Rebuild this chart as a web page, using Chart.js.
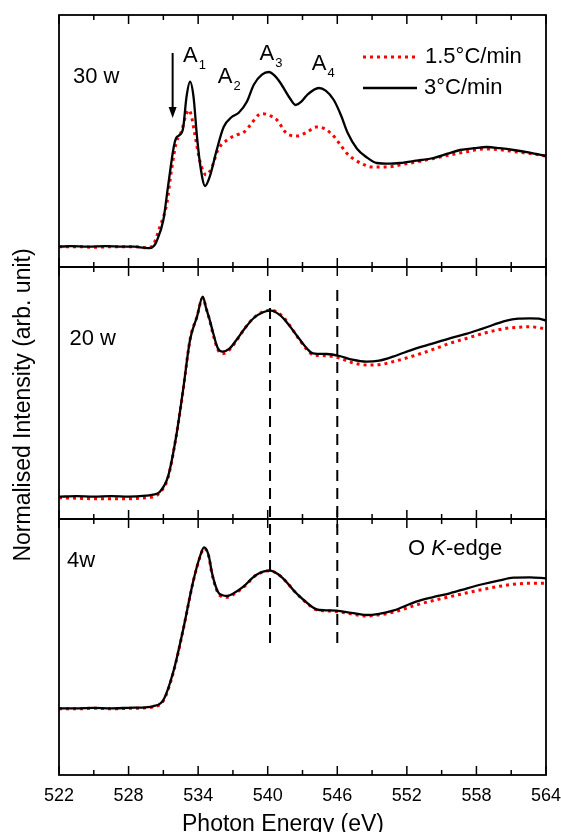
<!DOCTYPE html>
<html>
<head>
<meta charset="utf-8">
<script src="https://cdn.jsdelivr.net/npm/chart.js@4.4.0/dist/chart.umd.min.js"></script>
<style>
  html, body { margin: 0; padding: 0; background: #fff; }
  #wrap { width: 561px; height: 832px; overflow: hidden; }
</style>
</head>
<body>
<div id="wrap"><canvas id="xas" width="561" height="832"></canvas></div>
<script>
// x axis (photon energy, eV)
var energyMin = 522, energyMax = 564, energyStep = 6;

var seriesNames = ['1.5\u00B0C/min', '3\u00B0C/min'];
var panelNames = ['30 w', '20 w', '4w'];

// 30 w, 3 C/min (black)
var e30Fast = [522, 523, 524.5, 526, 527.5, 528.5, 529.3, 529.8, 530.2, 530.4, 531.0, 531.4, 531.9, 532.1, 532.4, 532.7, 533.0, 533.3, 533.6, 533.9, 534.2, 534.6, 535.0, 535.6, 536.2, 536.9, 537.5, 538.2, 538.8, 539.5, 540.1, 540.6, 541.1, 541.9, 542.4, 542.9, 543.4, 544.4, 545.0, 545.7, 546.3, 546.9, 547.7, 548.5, 549.4, 550.5, 551.4, 552.8, 554.3, 555.5, 556.6, 557.8, 558.9, 560, 561.2, 562.6, 564];
var i30Fast = [0.0, 0.005, 0.0, 0.005, 0.0, 0.0, -0.01, -0.015, 0.01, 0.05, 0.267, 0.6, 1.0, 1.087, 1.117, 1.183, 1.5, 1.65, 1.5, 1.1, 0.8, 0.607, 0.70, 0.967, 1.197, 1.297, 1.34, 1.45, 1.62, 1.72, 1.747, 1.71, 1.637, 1.487, 1.417, 1.45, 1.517, 1.587, 1.56, 1.467, 1.32, 1.137, 0.98, 0.897, 0.837, 0.83, 0.837, 0.86, 0.887, 0.93, 0.967, 0.985, 0.997, 0.985, 0.967, 0.94, 0.907];
// 30 w, 1.5 C/min (red)
var e30Slow = [522, 523.5, 525, 527, 528.5, 529.5, 530.0, 530.7, 531.3, 531.7, 532.1, 532.6, 532.9, 533.2, 533.4, 533.7, 534.2, 534.7, 535.2, 535.7, 536.5, 537.3, 538.0, 538.5, 539.2, 539.6, 540.2, 540.8, 541.6, 542.5, 543.4, 544.2, 544.9, 545.6, 546.2, 546.8, 547.5, 548.3, 549.0, 550.3, 551.5, 552.8, 554.2, 555.7, 557.2, 558.6, 560, 561.5, 562.8, 564];
var i30Slow = [0.0, 0.0, -0.005, 0.0, 0.0, -0.01, 0.0, 0.2, 0.433, 0.767, 1.033, 1.167, 1.3, 1.367, 1.317, 1.133, 0.833, 0.717, 0.8, 0.967, 1.067, 1.117, 1.15, 1.217, 1.317, 1.33, 1.31, 1.267, 1.137, 1.107, 1.147, 1.197, 1.18, 1.117, 1.03, 0.937, 0.87, 0.82, 0.797, 0.797, 0.82, 0.847, 0.88, 0.917, 0.95, 0.977, 0.97, 0.947, 0.93, 0.907];

// 20 w
var e20 = [522, 523.5, 525, 526.5, 528, 529.5, 530.1, 530.7, 531.4, 532.1, 532.7, 533.3, 533.9, 534.4, 534.7, 535.0, 535.3, 535.7, 536.1, 536.7, 537.3, 538.0, 538.8, 539.6, 540.3, 541.0, 541.6, 542.2, 542.8, 543.4, 543.9, 545.1, 546.2, 547.3, 548.5, 549.6, 550.8, 552.8, 554.2, 555.7, 557.2, 558.6, 560.6, 561.6, 562.6, 563.4, 564];
var i20Fast = [0.0, 0.005, 0.0, 0.005, 0.0, 0.01, 0.02, 0.05, 0.2, 0.6, 1.067, 1.567, 1.80, 2.0, 1.88, 1.767, 1.634, 1.484, 1.45, 1.48, 1.567, 1.68, 1.787, 1.845, 1.86, 1.82, 1.75, 1.66, 1.567, 1.48, 1.434, 1.427, 1.407, 1.37, 1.35, 1.36, 1.40, 1.484, 1.53, 1.584, 1.63, 1.684, 1.76, 1.78, 1.784, 1.78, 1.76];
var i20Slow = [-0.01, -0.015, -0.02, -0.02, -0.02, -0.01, 0.0, 0.04, 0.19, 0.6, 1.06, 1.57, 1.80, 1.99, 1.88, 1.76, 1.62, 1.47, 1.43, 1.47, 1.56, 1.68, 1.79, 1.85, 1.865, 1.83, 1.76, 1.66, 1.56, 1.47, 1.42, 1.41, 1.385, 1.34, 1.317, 1.32, 1.35, 1.417, 1.47, 1.534, 1.585, 1.634, 1.684, 1.695, 1.70, 1.69, 1.674];

// 4 w
var e4 = [522, 523.5, 525, 526.5, 528, 529.5, 530.1, 531.0, 531.9, 532.7, 533.6, 534.2, 534.5, 534.9, 535.2, 535.7, 536.1, 536.5, 537.2, 537.9, 539.0, 540.2, 540.9, 541.6, 542.3, 543.1, 544.2, 545.0, 545.9, 547.2, 548.5, 549.6, 550.8, 552.8, 554.2, 555.7, 557.2, 558.6, 560, 561.2, 562.6, 564];
var i4Fast = [0.0, 0.0, 0.005, 0.0, 0.005, 0.01, 0.02, 0.083, 0.383, 0.783, 1.283, 1.533, 1.61, 1.533, 1.35, 1.166, 1.13, 1.123, 1.16, 1.216, 1.333, 1.376, 1.34, 1.266, 1.17, 1.083, 0.99, 0.98, 0.976, 0.955, 0.933, 0.945, 0.976, 1.066, 1.11, 1.15, 1.2, 1.243, 1.28, 1.306, 1.31, 1.30];
var i4Slow = [-0.005, -0.005, 0.0, -0.005, 0.0, 0.005, 0.015, 0.075, 0.375, 0.78, 1.28, 1.525, 1.60, 1.525, 1.34, 1.155, 1.115, 1.11, 1.15, 1.21, 1.33, 1.376, 1.34, 1.266, 1.17, 1.08, 0.985, 0.975, 0.968, 0.945, 0.923, 0.935, 0.96, 1.033, 1.075, 1.116, 1.155, 1.19, 1.22, 1.24, 1.25, 1.25];

// dashed guide lines
var markerEnergies = [540.2, 546.0];

function pts(e, v) {
  var out = [];
  for (var i = 0; i < e.length; i++) out.push({ x: e[i], y: v[i] });
  return out;
}

function blackSet(e, v, axis) {
  return { label: seriesNames[1], data: pts(e, v), yAxisID: axis, borderColor: '#000', borderWidth: 2.3,
    pointRadius: 0, fill: false, cubicInterpolationMode: 'monotone' };
}
function redSet(e, v, axis) {
  return { label: seriesNames[0], data: pts(e, v), yAxisID: axis, borderColor: '#ff0000', borderWidth: 3,
    borderDash: [3, 4], pointRadius: 0, fill: false, cubicInterpolationMode: 'monotone' };
}

var FONT = '"Liberation Sans", Arial, sans-serif';

function panelAxis(min, max, weight, order) {
  return { type: 'linear', position: 'left', stack: 'panels', stackWeight: weight, weight: order,
    min: min, max: max, display: true,
    ticks: { display: false }, grid: { display: false, drawTicks: false }, border: { display: false } };
}

function subLabel(ctx, main, sub, x, y) {
  ctx.font = '22px ' + FONT;
  ctx.textAlign = 'left';
  ctx.textBaseline = 'alphabetic';
  ctx.fillText(main, x, y);
  var w = ctx.measureText(main).width;
  ctx.font = '13px ' + FONT;
  ctx.fillText(sub, x + w + 1, y + 7);
}

var decor = {
  id: 'decor',
  afterDatasetsDraw: function (chart) {
    var ctx = chart.ctx, area = chart.chartArea, xs = chart.scales.x;
    var panels = [chart.scales.y30, chart.scales.y20, chart.scales.y4];
    ctx.save();
    ctx.strokeStyle = '#000';
    ctx.fillStyle = '#000';

    // panel frames and inward ticks
    panels.forEach(function (s) {
      ctx.lineWidth = 1.8;
      ctx.setLineDash([]);
      ctx.strokeRect(area.left, s.top, area.right - area.left, s.bottom - s.top);
      ctx.lineWidth = 1.5;
      for (var v = energyMin; v <= energyMax; v += energyStep / 2) {
        var px = xs.getPixelForValue(v);
        var len = ((v - energyMin) % energyStep === 0) ? 9 : 5;
        ctx.beginPath();
        ctx.moveTo(px, s.top); ctx.lineTo(px, s.top + len);
        ctx.moveTo(px, s.bottom); ctx.lineTo(px, s.bottom - len);
        ctx.stroke();
      }
    });

    // dashed guide lines from 20 w into 4 w
    ctx.lineWidth = 2;
    ctx.setLineDash([11, 7]);
    markerEnergies.forEach(function (e) {
      var px = xs.getPixelForValue(e);
      ctx.beginPath();
      ctx.moveTo(px, chart.scales.y20.getPixelForValue(2.067));
      ctx.lineTo(px, chart.scales.y4.getPixelForValue(0.613));
      ctx.stroke();
    });
    ctx.setLineDash([]);

    // arrow at pre-edge shoulder
    var ax = xs.getPixelForValue(531.8);
    var ay0 = chart.scales.y30.getPixelForValue(1.937);
    var ay1 = chart.scales.y30.getPixelForValue(1.287);
    ctx.lineWidth = 2;
    ctx.beginPath(); ctx.moveTo(ax, ay0); ctx.lineTo(ax, ay1 - 8); ctx.stroke();
    ctx.beginPath(); ctx.moveTo(ax - 4, ay1 - 11); ctx.lineTo(ax + 4, ay1 - 11); ctx.lineTo(ax, ay1); ctx.closePath(); ctx.fill();

    // peak labels
    var y30 = chart.scales.y30;
    subLabel(ctx, 'A', '1', xs.getPixelForValue(532.7), y30.getPixelForValue(1.847));
    subLabel(ctx, 'A', '2', xs.getPixelForValue(535.7), y30.getPixelForValue(1.637));
    subLabel(ctx, 'A', '3', xs.getPixelForValue(539.3), y30.getPixelForValue(1.867));
    subLabel(ctx, 'A', '4', xs.getPixelForValue(543.8), y30.getPixelForValue(1.767));

    // panel names
    ctx.font = '22px ' + FONT;
    ctx.textAlign = 'left';
    ctx.textBaseline = 'alphabetic';
    ctx.fillText(panelNames[0], xs.getPixelForValue(523.2), y30.getPixelForValue(1.637));
    ctx.fillText(panelNames[1], xs.getPixelForValue(522.9), chart.scales.y20.getPixelForValue(1.517));
    ctx.fillText(panelNames[2], xs.getPixelForValue(522.7), chart.scales.y4.getPixelForValue(1.413));

    // O K-edge
    var kx = xs.getPixelForValue(552.1), ky = chart.scales.y4.getPixelForValue(1.533);
    ctx.fillText('O ', kx, ky);
    kx += ctx.measureText('O ').width;
    ctx.font = 'italic 22px ' + FONT;
    ctx.fillText('K', kx, ky);
    kx += ctx.measureText('K').width;
    ctx.font = '22px ' + FONT;
    ctx.fillText('-edge', kx, ky);

    // legend
    var lx0 = area.right - 183, lx1 = area.right - 129, ly = area.top + 42;
    ctx.lineWidth = 3; ctx.strokeStyle = '#ff0000'; ctx.setLineDash([3, 4]);
    ctx.beginPath(); ctx.moveTo(lx0, ly); ctx.lineTo(lx1, ly); ctx.stroke();
    ctx.setLineDash([]); ctx.strokeStyle = '#000'; ctx.lineWidth = 2.3;
    ctx.beginPath(); ctx.moveTo(lx0, ly + 31); ctx.lineTo(lx1, ly + 31); ctx.stroke();
    ctx.textBaseline = 'middle';
    ctx.fillText(seriesNames[0], lx1 + 8, ly);
    ctx.fillText(seriesNames[1], lx1 + 7, ly + 31);

    // axis titles
    ctx.font = '23px ' + FONT;
    ctx.textAlign = 'center';
    ctx.textBaseline = 'alphabetic';
    ctx.fillText('Photon Energy (eV)', 283, 831);
    ctx.translate(24, 405);
    ctx.rotate(-Math.PI / 2);
    ctx.textBaseline = 'middle';
    ctx.fillText('Normalised Intensity (arb. unit)', 0, 0);
    ctx.restore();
  }
};

var chart = new Chart(document.getElementById('xas').getContext('2d'), {
  type: 'line',
  data: {
    datasets: [
      blackSet(e30Fast, i30Fast, 'y30'),
      blackSet(e20, i20Fast, 'y20'),
      blackSet(e4, i4Fast, 'y4'),
      redSet(e30Slow, i30Slow, 'y30'),
      redSet(e20, i20Slow, 'y20'),
      redSet(e4, i4Slow, 'y4')
    ]
  },
  options: {
    responsive: false,
    animation: false,
    layout: { padding: { left: 59, right: 15, top: 15, bottom: 15.4 } },
    plugins: { legend: { display: false }, tooltip: { enabled: false } },
    scales: {
      x: {
        type: 'linear', min: energyMin, max: energyMax,
        grid: { display: false, drawTicks: false }, border: { display: false },
        ticks: { stepSize: energyStep, autoSkip: false, maxRotation: 0, padding: 10, color: '#000',
          font: { family: FONT, size: 18 } },
        afterFit: function (scale) { scale.paddingLeft = 0; scale.paddingRight = 0; }
      },
      y30: panelAxis(-0.203, 2.317, 252, 3),
      y20: panelAxis(-0.223, 2.297, 252, 2),
      y4: panelAxis(-0.667, 1.893, 256, 1)
    }
  },
  plugins: [decor]
});
</script>
</body>
</html>
